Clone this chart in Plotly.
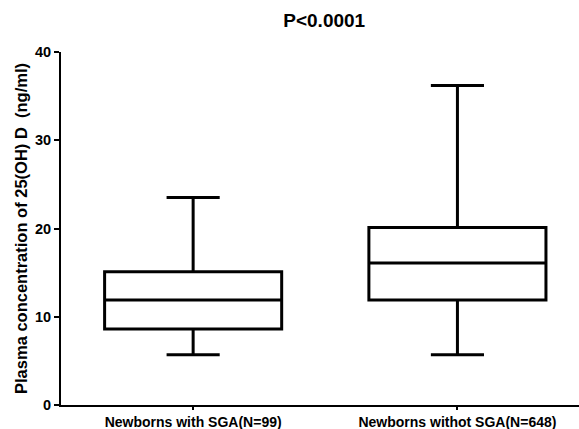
import plotly.graph_objects as go

categories = ["Newborns with SGA(N=99)", "Newborns withot SGA(N=648)"]
lower_whisker = [5.7, 5.7]
q1_values = [8.6, 11.9]
median_values = [11.9, 16.1]
q3_values = [15.1, 20.1]
upper_whisker = [23.5, 36.2]

FONT = "Arial, Liberation Sans, sans-serif"

fig = go.Figure()
for i, cat in enumerate(categories):
    fig.add_trace(go.Box(
        x=[cat], q1=[q1_values[i]], median=[median_values[i]], q3=[q3_values[i]],
        lowerfence=[lower_whisker[i]], upperfence=[upper_whisker[i]],
        fillcolor="white", line=dict(color="black", width=3),
        width=0.67, whiskerwidth=0.3, boxpoints=False, showlegend=False,
    ))

fig.update_layout(
    width=579, height=429,
    margin=dict(l=61, r=0, t=52, b=24, autoexpand=False),
    paper_bgcolor="white", plot_bgcolor="white",
    font=dict(family=FONT, color="black"),
    title=dict(text="P<0.0001", x=0.56, xanchor="center", y=0.953, yanchor="middle",
               font=dict(size=19, color="black", family=FONT, weight="bold"), automargin=False),
)
fig.update_xaxes(
    type="category", range=[-0.5, 1.46], showline=True, linecolor="black", linewidth=2,
    ticks="outside", ticklen=3, tickwidth=1.5, tickcolor="black", automargin=False,
    tickfont=dict(size=14, color="black", family=FONT, weight="bold"),
    showgrid=False, zeroline=False,
)
fig.update_yaxes(
    range=[0, 40], tickvals=[0, 10, 20, 30, 40], showline=True, linecolor="black", linewidth=2,
    ticks="outside", ticklen=5, tickwidth=1.5, tickcolor="black", automargin=False,
    tickfont=dict(size=14.5, color="black", family=FONT, weight="bold"),
    showgrid=False, zeroline=False,
    title=dict(text="Plasma concentration of 25(OH) D  (ng/ml)",
               font=dict(size=16.5, color="black", family=FONT, weight="bold"), standoff=3),
)

fig.write_html("out.html", config={"displayModeBar": False},
               post_script="document.body.style.margin='0px';")
